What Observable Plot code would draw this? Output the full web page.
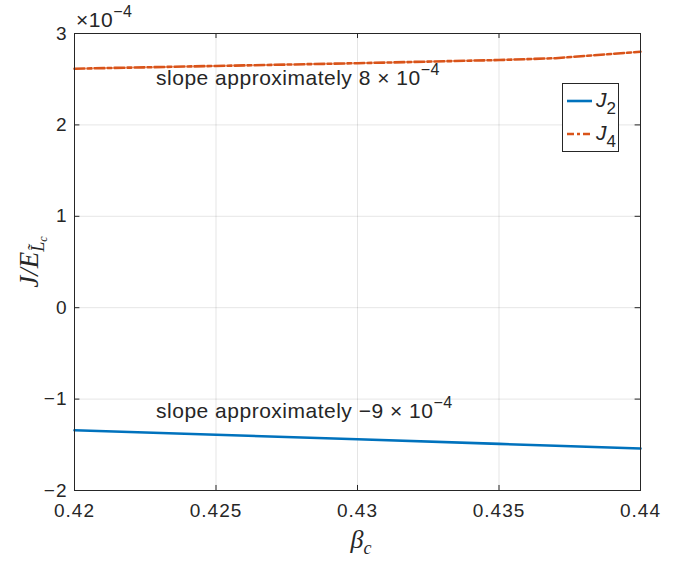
<!DOCTYPE html>
<html><head><meta charset="utf-8">
<script src="https://cdn.jsdelivr.net/npm/d3@7"></script>
<script src="https://cdn.jsdelivr.net/npm/@observablehq/plot@0.6"></script>
<style>
body{margin:0;background:#fff;}
#c{position:relative;width:694px;height:565px;}
#c svg g[aria-label="x-axis tick label"], #c svg g[aria-label="y-axis tick label"] {font-size:19px !important; letter-spacing:1px;}
#c svg g[aria-label="x-axis tick label"] text, #c svg g[aria-label="y-axis tick label"] text {font-size:19px !important;}
</style></head><body><div id="c"></div>
<script>
const beta = [0.42, 0.425, 0.43, 0.435, 0.437, 0.44];
const J2 = [-1.34, -1.39, -1.44, -1.49, -1.51, -1.54];
const J4 = [2.615, 2.645, 2.675, 2.71, 2.73, 2.80];
const xTicks = [0.42, 0.425, 0.43, 0.435, 0.44];
const yTicks = [-2, -1, 0, 1, 2, 3];
const annotations = [
  {x: 0.4229, y: 2.43, base: "slope approximately 8 × 10", exp: "−4"},
  {x: 0.4229, y: -1.21, base: "slope approximately −9 × 10", exp: "−4"}
];
const seriesNames = ["2", "4"];

const rows = [];
beta.forEach((b, i) => {
  rows.push({beta: b, J: J2[i], s: "J2"});
  rows.push({beta: b, J: J4[i], s: "J4"});
});

const font = "'Liberation Sans', Arial, Helvetica, sans-serif";
const ink = "#262626";
const blue = "#0072BD", orange = "#D95319";

const plot = Plot.plot({
  width: 694, height: 565,
  marginLeft: 74, marginRight: 54, marginTop: 33, marginBottom: 75,
  style: {fontFamily: font, fontSize: "19px", color: ink, background: "#fff"},
  x: {domain: [0.42, 0.44], ticks: xTicks, label: null},
  y: {domain: [-2, 3], ticks: yTicks, label: null},
  marks: [
    Plot.gridX(xTicks, {stroke: "#000", strokeOpacity: 0.1}),
    Plot.gridY(yTicks, {stroke: "#000", strokeOpacity: 0.1}),
    Plot.line(rows.filter(d => d.s === "J2"), {x: "beta", y: "J", stroke: blue, strokeWidth: 2.6}),
    Plot.line(rows.filter(d => d.s === "J4"), {x: "beta", y: "J", stroke: orange, strokeWidth: 2.6, strokeDasharray: "10,3,4,3"}),
    Plot.axisX(xTicks, {anchor: "bottom", tickSize: 0, tickPadding: 13, tickFormat: d => String(d), fill: ink, fontSize: 19}),
    Plot.axisY(yTicks, {anchor: "left", tickSize: 0, tickPadding: 7, tickFormat: d => d < 0 ? "−" + (-d) : String(d), fill: ink, fontSize: 19}),
    Plot.ruleX(xTicks, {x: d => d, y1: -2, y2: -1.945, stroke: ink}),
    Plot.ruleX(xTicks, {x: d => d, y1: 3, y2: 2.945, stroke: ink}),
    Plot.ruleY(yTicks, {y: d => d, x1: 0.42, x2: 0.42019, stroke: ink}),
    Plot.ruleY(yTicks, {y: d => d, x1: 0.44, x2: 0.43981, stroke: ink}),
    Plot.frame({stroke: ink, strokeWidth: 1})
  ]
});
document.getElementById("c").appendChild(plot);

const svg = d3.select(plot);
const sx = plot.scale("x"), sy = plot.scale("y");

// annotations
annotations.forEach(a => {
  const t = svg.append("text").attr("text-anchor", "start")
    .attr("x", sx.apply(a.x)).attr("y", sy.apply(a.y))
    .attr("font-family", font).attr("font-size", 21).attr("letter-spacing", "0.5px").attr("fill", ink);
  t.append("tspan").text(a.base);
  t.append("tspan").attr("dy", -10).attr("font-size", 16).text(a.exp);
});

// exponent label
const ex = svg.append("text").attr("text-anchor", "start").attr("x", 76).attr("y", 27)
  .attr("font-family", font).attr("font-size", 21).attr("letter-spacing", "0.5px").attr("fill", ink);
ex.append("tspan").text("×10");
ex.append("tspan").attr("dy", -10).attr("font-size", 16).text("−4");

// axis labels
const serif = "'Liberation Serif', 'DejaVu Serif', serif";
const xl = svg.append("text").attr("text-anchor", "middle").attr("x", 361).attr("y", 548)
  .attr("font-family", serif).attr("font-style", "italic").attr("font-size", 26).attr("fill", ink);
xl.append("tspan").text("β");
xl.append("tspan").attr("dy", 6).attr("font-size", 18).text("c");

const yl = svg.append("text").attr("text-anchor", "middle").attr("transform", "translate(38,262) rotate(-90)")
  .attr("font-family", serif).attr("font-style", "italic").attr("font-size", 27).attr("fill", ink);
yl.append("tspan").text("J/E");
yl.append("tspan").attr("dy", 6).attr("font-size", 18).text("L̃");
yl.append("tspan").attr("dy", 3).attr("font-size", 12).text("c");

// legend
const lg = svg.append("g").attr("text-anchor", "start");
lg.append("rect").attr("x", 562.5).attr("y", 83.5).attr("width", 56).attr("height", 68)
  .attr("fill", "#fff").attr("stroke", ink).attr("stroke-width", 1);
const legendItems = [{name: seriesNames[0], color: blue, dash: null, y: 101},
                     {name: seriesNames[1], color: orange, dash: "7,3,3,3", y: 134}];
legendItems.forEach(it => {
  lg.append("line").attr("x1", 567).attr("x2", 592).attr("y1", it.y).attr("y2", it.y)
    .attr("stroke", it.color).attr("stroke-width", 2.6).attr("stroke-dasharray", it.dash);
  const t = lg.append("text").attr("x", 596).attr("y", it.y + 6)
    .attr("font-family", font).attr("font-size", 21).attr("fill", ink);
  t.append("tspan").attr("font-style", "italic").text("J");
  t.append("tspan").attr("dy", 7).attr("font-size", 17).text(it.name);
});
</script></body></html>
